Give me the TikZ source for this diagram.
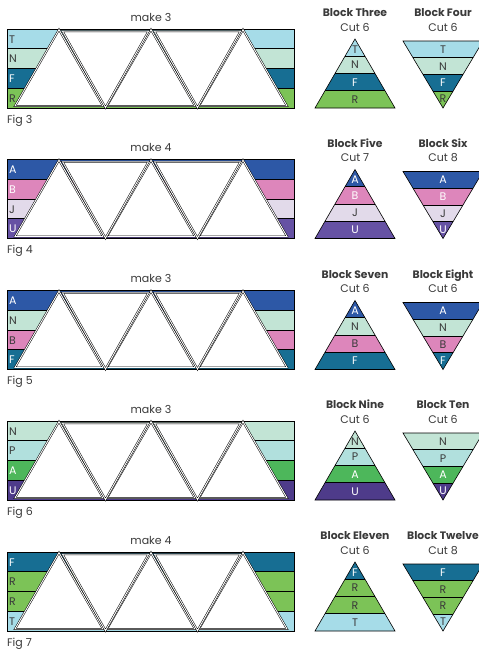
\documentclass[tikz,border=0pt]{standalone}
\usepackage{fontspec}
\setmainfont{Poppins}
\definecolor{cT}{HTML}{A6DCE8}
\definecolor{cN}{HTML}{C2E4D5}
\definecolor{cF}{HTML}{176E93}
\definecolor{cR}{HTML}{7CC357}
\definecolor{cA}{HTML}{2D58A6}
\definecolor{cB}{HTML}{DD86BB}
\definecolor{cJ}{HTML}{E2DAEA}
\definecolor{cU}{HTML}{6652A4}
\definecolor{cP}{HTML}{B1E0DD}
\definecolor{cG}{HTML}{4DB75B}
\definecolor{cV}{HTML}{4E3B8A}
\definecolor{ink}{HTML}{3A3A3A}
\tikzset{
  txt/.style={font=\fontsize{11}{12}\selectfont, inner sep=0pt, text=ink},
  ttl/.style={font=\bfseries\fontsize{10.8}{12}\selectfont, inner sep=0pt, text=ink, anchor=base},
  letter/.style={font=\fontsize{11}{12}\selectfont, inner sep=0pt, anchor=base},
  tri/.style={draw=black, line width=0.5pt, double=white, double distance=0.9pt, fill=white, line join=miter},
  edge/.style={draw=black, line width=0.6pt},
}
\newcommand\quiltrow[8]{%
\begin{scope}[shift={(0,#1)}]
  % strip rows
  \foreach \c/\t/\l [count=\i from 0] in {#8} {
    \fill[\c] (7,{\i*19.75}) rectangle (294,{\i*19.75+19.75});
    \node[letter, anchor=base west, text=\t] (s#3\i) at (9,{\i*19.75+14}) {\l};
  }
  \foreach \i in {1,2,3} \draw[edge] (7,{\i*19.75}) -- (294,{\i*19.75});
  \draw[line width=0.8pt] (7,0) rectangle (294,79);
  % triangles
  \foreach \k in {0,1,2}
    \draw[tri] ({59+92*\k},0.6) -- ({103+92*\k},77) -- ({15+92*\k},77) -- cycle;
  \foreach \k in {0,1}
    \draw[tri] ({62.5+92*\k},2.2) -- ({148.5+92*\k},2.2) -- ({105.5+92*\k},78.6) -- cycle;
  \node[txt, anchor=base] (make#3) at (151,-8) {make #2};
  \node[txt, anchor=base west] (fig#3) at (7,94) {Fig #3};
  % block titles
  \node[ttl] (bl#3) at (355,-12.3) {#4};
  \node[txt, anchor=base] (cl#3) at (355,2) {Cut #6};
  \node[ttl] (br#3) at (443,-12.3) {#5};
  \node[txt, anchor=base] (cr#3) at (443,2) {Cut #7};
  % up block
  \foreach \c/\t/\l [count=\i from 0] in {#8} {
    \fill[\c] ({355-10*\i},{10+17.25*\i}) -- ({355+10*\i},{10+17.25*\i})
      -- ({355+10*(\i+1)},{10+17.25*(\i+1)}) -- ({355-10*(\i+1)},{10+17.25*(\i+1)}) -- cycle;
    \node[letter, text=\t] (u#3\i) at (355,{10+17.25*\i+8.625+4+(\i==0?1.5:0)}) {\l};
  }
  \foreach \i in {1,2,3} \draw[edge] ({355-10*\i},{10+17.25*\i}) -- ({355+10*\i},{10+17.25*\i});
  \draw[edge, line join=miter] (355,10) -- (395,79) -- (315,79) -- cycle;
  % down block
  \foreach \c/\t/\l [count=\i from 0] in {#8} {
    \fill[\c] ({443-40+10*\i},{12+16.75*\i}) -- ({443+40-10*\i},{12+16.75*\i})
      -- ({443+40-10*(\i+1)},{12+16.75*(\i+1)}) -- ({443-40+10*(\i+1)},{12+16.75*(\i+1)}) -- cycle;
    \node[letter, text=\t] (d#3\i) at (443,{12+16.75*\i+8.375+4-(\i==3?1:0)}) {\l};
  }
  \foreach \i in {1,2,3} \draw[edge] ({403+10*\i},{12+16.75*\i}) -- ({483-10*\i},{12+16.75*\i});
  \draw[edge, line join=miter] (403,12) -- (483,12) -- (443,79) -- cycle;
\end{scope}}
\begin{document}
\begin{tikzpicture}[x=1pt,y=-1pt]
\clip (0,0) rectangle (479,649);
\fill[white] (0,0) rectangle (479,649);
\quiltrow{29}{3}{3}{Block Three}{Block Four}{6}{6}{cT/ink/T, cN/ink/N, cF/white/F, cR/ink/R}
\quiltrow{159.5}{4}{4}{Block Five}{Block Six}{7}{8}{cA/white/A, cB/white/B, cJ/ink/J, cU/white/U}
\quiltrow{290.5}{3}{5}{Block Seven}{Block Eight}{6}{6}{cA/white/A, cN/ink/N, cB/ink/B, cF/white/F}
\quiltrow{421}{3}{6}{Block Nine}{Block Ten}{6}{6}{cN/ink/N, cP/ink/P, cG/white/A, cV/white/U}
\quiltrow{552}{4}{7}{Block Eleven}{Block Twelve}{6}{8}{cF/white/F, cR/ink/R, cR/ink/R, cT/ink/T}
\end{tikzpicture}
\end{document}
